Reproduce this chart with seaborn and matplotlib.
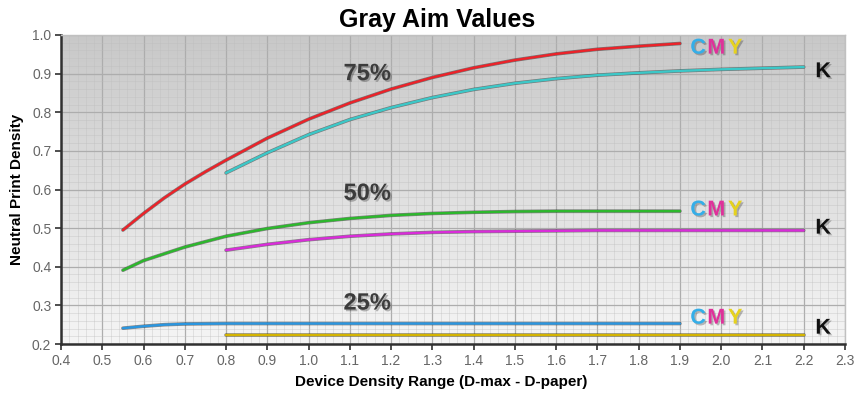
import matplotlib
matplotlib.use("Agg")
import matplotlib.pyplot as plt
import matplotlib.patheffects as pe
from matplotlib.ticker import MultipleLocator
import numpy as np
import pandas as pd
import seaborn as sns

# 75% patch
x_75_cmy = [0.55, 0.6, 0.65, 0.7, 0.75, 0.8, 0.9, 1.0, 1.1, 1.2, 1.3, 1.4, 1.5, 1.6, 1.7, 1.8, 1.9]
y_75_cmy = [0.495, 0.538, 0.578, 0.614, 0.646, 0.676, 0.733, 0.782, 0.824, 0.86, 0.89, 0.915, 0.935, 0.951, 0.963, 0.971, 0.978]
x_75_k = [0.8, 0.9, 1.0, 1.1, 1.2, 1.3, 1.4, 1.5, 1.6, 1.7, 1.8, 1.9, 2.0, 2.1, 2.2]
y_75_k = [0.643, 0.695, 0.742, 0.781, 0.812, 0.838, 0.859, 0.875, 0.887, 0.896, 0.902, 0.907, 0.911, 0.914, 0.917]

# 50% patch
x_50_cmy = [0.55, 0.6, 0.7, 0.8, 0.9, 1.0, 1.1, 1.2, 1.3, 1.4, 1.5, 1.6, 1.7, 1.8, 1.9]
y_50_cmy = [0.391, 0.416, 0.451, 0.479, 0.499, 0.514, 0.525, 0.533, 0.538, 0.541, 0.543, 0.544, 0.544, 0.544, 0.544]
x_50_k = [0.8, 0.9, 1.0, 1.1, 1.2, 1.3, 1.4, 1.5, 1.6, 1.7, 1.8, 1.9, 2.0, 2.1, 2.2]
y_50_k = [0.443, 0.458, 0.47, 0.479, 0.485, 0.489, 0.491, 0.492, 0.493, 0.494, 0.494, 0.494, 0.494, 0.494, 0.494]

# 25% patch
x_25_cmy = [0.55, 0.6, 0.65, 0.7, 0.8, 1.0, 1.2, 1.4, 1.6, 1.8, 1.9]
y_25_cmy = [0.241, 0.246, 0.25, 0.252, 0.253, 0.253, 0.253, 0.253, 0.253, 0.253, 0.253]
x_25_k = [0.8, 1.0, 1.2, 1.4, 1.6, 1.8, 2.0, 2.2]
y_25_k = [0.223, 0.223, 0.223, 0.223, 0.223, 0.223, 0.223, 0.223]

series = [
    ("75% CMY", x_75_cmy, y_75_cmy, "#ec2229"),
    ("75% K", x_75_k, y_75_k, "#3cc8c8"),
    ("50% CMY", x_50_cmy, y_50_cmy, "#2cb82c"),
    ("50% K", x_50_k, y_50_k, "#d92cd9"),
    ("25% CMY", x_25_cmy, y_25_cmy, "#2a96e0"),
    ("25% K", x_25_k, y_25_k, "#d4b400"),
]

pct_labels = ["75%", "50%", "25%"]
pct_x = [1.142, 1.142, 1.142]
pct_y = [0.90, 0.59, 0.306]
cmy_y = [0.966, 0.547, 0.267]
k_y = [0.905, 0.50, 0.241]

sns.set_theme(style="white")
plt.rcParams["font.family"] = ["Liberation Sans", "DejaVu Sans"]

fig = plt.figure(figsize=(8.67, 3.99), dpi=100)
ax = fig.add_axes([0.0704, 0.1378, 0.9042, 0.7745])

# gray gradient background
grad = np.linspace(0, 1, 256).reshape(-1, 1)
ax.imshow(grad, extent=[0.4, 2.3, 0.2, 1.0], aspect="auto", origin="upper",
          cmap=matplotlib.colors.LinearSegmentedColormap.from_list("bg", ["#c8c8c8", "#f5f5f5"]),
          zorder=0)

ax.xaxis.set_major_locator(MultipleLocator(0.1))
ax.yaxis.set_major_locator(MultipleLocator(0.1))
ax.xaxis.set_minor_locator(MultipleLocator(0.02))
ax.yaxis.set_minor_locator(MultipleLocator(0.02))
ax.grid(which="major", color="#adadad", linewidth=0.9, zorder=1)
ax.grid(which="minor", color="#bdbdbd", linewidth=0.5, alpha=0.5, zorder=1)
ax.set_axisbelow(True)

outline = [pe.Stroke(linewidth=2.6, foreground="#202020", alpha=0.5), pe.Normal()]
for name, xs, ys, col in series:
    df = pd.DataFrame({"x": xs, "y": ys})
    sns.lineplot(data=df, x="x", y="y", ax=ax, color=col, linewidth=1.7,
                 path_effects=outline, zorder=3)

shadow = [pe.SimplePatchShadow(offset=(1.2, -1.2), alpha=0.25, shadow_rgbFace="#000000"),
          pe.Normal()]
for lab, px, py in zip(pct_labels, pct_x, pct_y):
    ax.text(px, py, lab, fontsize=17, fontweight="bold", color="#3c3c3c",
            ha="center", va="center", path_effects=shadow, zorder=4)

for cy, ky in zip(cmy_y, k_y):
    for letter, lx, lc in zip("CMY", [1.944, 1.988, 2.034], ["#34aee8", "#e0309a", "#e6d21e"]):
        ax.text(lx, cy, letter, fontsize=15.5, fontweight="bold", color=lc,
                ha="center", va="center", path_effects=shadow, zorder=4)
    ax.text(2.247, ky, "K", fontsize=15.5, fontweight="bold", color="#101010",
            ha="center", va="center", path_effects=shadow, zorder=4)

ax.set_xlim(0.4, 2.3)
ax.set_ylim(0.2, 1.0)
ax.set_xticks(np.arange(0.4, 2.31, 0.1))
ax.set_xticklabels([f"{v:.1f}" for v in np.arange(0.4, 2.31, 0.1)])
ax.set_yticks(np.arange(0.2, 1.01, 0.1))
ax.set_yticklabels([f"{v:.1f}" for v in np.arange(0.2, 1.01, 0.1)])
ax.tick_params(axis="both", which="major", direction="out", length=4, width=1.2,
               color="#303030", labelsize=10, labelcolor="#666666", pad=3,
               bottom=True, left=True)
ax.tick_params(which="minor", length=0)

for s in ["left", "bottom"]:
    ax.spines[s].set_color("#303030")
    ax.spines[s].set_linewidth(1.8)
for s in ["top", "right"]:
    ax.spines[s].set_color("#c0c0c0")
    ax.spines[s].set_linewidth(1.0)

ax.set_xlabel("Device Density Range (D-max - D-paper)", fontsize=11, fontweight="bold",
              color="#000000")
ax.xaxis.set_label_coords(0.485, -0.10)
ax.set_ylabel("Neutral Print Density", fontsize=11, fontweight="bold", color="#000000",
              labelpad=6)
ax.set_title("Gray Aim Values", fontsize=18, fontweight="heavy", color="#000000",
             pad=6, x=0.48)

fig.savefig("out.png", dpi=100)
